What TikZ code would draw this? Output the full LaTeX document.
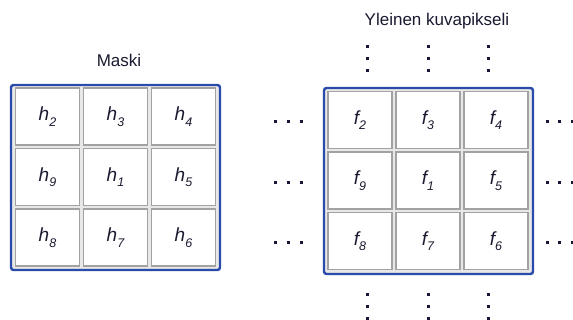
\documentclass[tikz,border=0pt]{standalone}
\usepackage{fontspec}
\setmainfont{Liberation Sans}
\definecolor{frameblue}{HTML}{2B4BAB}
\definecolor{cellgray}{HTML}{A2A2A2}
\definecolor{gapgray}{HTML}{E8E8E8}
\definecolor{dotnavy}{HTML}{181838}
\definecolor{textnavy}{HTML}{1A1A30}
\newcommand{\cellvar}[2]{{\itshape #1\raisebox{-5.5pt}{\fontsize{12.5}{12.5}\selectfont #2}}}
\tikzset{
  gridframe/.style={draw=frameblue, line width=2.4pt, rounded corners=2.5pt, fill=gapgray},
  cellbox/.style={draw=cellgray, line width=1.1pt, fill=white, minimum width=64pt,
    minimum height=57pt, inner sep=0pt, text=textnavy, font=\fontsize{19}{19}\selectfont},
  caption/.style={font=\fontsize{17}{17}\selectfont, text=textnavy},
  dotsq/.style={fill=dotnavy}
}
\begin{document}
\begin{tikzpicture}[x=1pt,y=-1pt]
\useasboundingbox (0,0) rectangle (573,320);
\fill[white] (0,0) rectangle (573,320);

% captions
\node[caption] (maski) at (119,60) {Maski};
\node[caption] (yleinen) at (437,21) {Yleinen kuvapikseli};

% mask grid
\draw[gridframe] (11,85) rectangle (220,270);
\foreach \lab [count=\i from 0] in {2,3,4,9,1,5,8,7,6} {
  \pgfmathtruncatemacro{\c}{mod(\i,3)}
  \pgfmathtruncatemacro{\r}{div(\i,3)}
  \node[cellbox] (h\lab) at ({47.5+68*\c},{116.5+60.5*\r}) {\cellvar{h}{\lab}};
}

% image pixel grid
\draw[gridframe] (324,88) rectangle (533,274);
\foreach \lab [count=\i from 0] in {2,3,4,9,1,5,8,7,6} {
  \pgfmathtruncatemacro{\c}{mod(\i,3)}
  \pgfmathtruncatemacro{\r}{div(\i,3)}
  \node[cellbox] (f\lab) at ({360+68*\c},{120+60.5*\r}) {\cellvar{f}{\lab}};
}

% horizontal continuation dots
\foreach \y in {122,183,243} {
  \foreach \x in {275,288,301,547,559,572} {
    \fill[dotsq] (\x-1.5,\y-1.5) rectangle (\x+1.5,\y+1.5);
  }
}
% vertical continuation dots
\foreach \x in {367,428,488} {
  \foreach \y in {47,59,71,295,307,319} {
    \fill[dotsq] (\x-1.5,\y-1.5) rectangle (\x+1.5,\y+1.5);
  }
}
\end{tikzpicture}
\end{document}
